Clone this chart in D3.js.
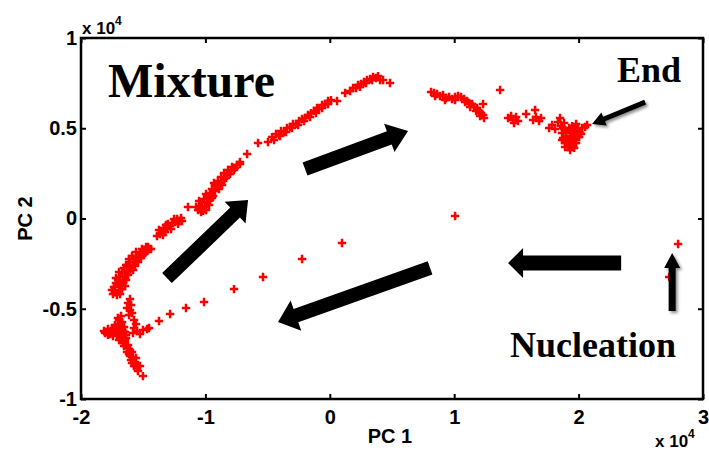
<!DOCTYPE html>
<html>
<head>
<meta charset="utf-8">
<script src="https://cdn.jsdelivr.net/npm/d3@7"></script>
<style>
  html, body { margin: 0; padding: 0; background: #fff; }
  svg { display: block; }
</style>
</head>
<body>
<svg id="chart" width="709" height="452"></svg>
<script>
// PCA scores [PC 1, PC 2] of the crystallisation trajectory, grouped by stage.
const nucleationPath = [[28000,-1410],[27280,-3240],[10070,140],[980,-1360],[-2230,-2240],[-5370,-3240],[-7700,-3910],[-10110,-4630],[-11560,-4960],[-12840,-5290],[-13730,-5680],[-14530,-6070],[-15020,-6180],[-15500,-6230],[-15820,-6340],[-15260,-6400],[-14690,-6120]];
const turnColumn = [[-16060,-4460],[-16220,-4680],[-15980,-4790],[-16300,-4960],[-16060,-5070],[-15900,-5240],[-16140,-5350],[-15740,-5620],[-15580,-5840],[-15740,-6070]];
const lowerCluster = [[-18070,-6340],[-17830,-6230],[-17670,-6400],[-17510,-6120],[-17350,-6290],[-17190,-6010],[-17030,-5840],[-16940,-5620],[-16780,-5400],[-16700,-5730],[-16860,-6070],[-17110,-6450],[-17430,-6510],[-16540,-6010],[-16460,-6290],[-16700,-6560],[-16940,-6730],[-16620,-6900],[-16380,-6620],[-16220,-7010],[-16300,-7170],[-16060,-7290],[-16140,-7510],[-15900,-7400],[-15820,-7670],[-15980,-7840],[-15660,-7950],[-15580,-7730],[-15740,-8170],[-15500,-8280],[-15420,-8450],[-15260,-8170],[-15020,-8730],[-17590,-6230],[-17030,-6180],[-16780,-6340],[-16460,-6730],
  [-17830,-6450],[-17510,-6340],[-17270,-5900],[-17030,-5510],[-16780,-5960],[-17110,-6230],[-16620,-6230],[-16380,-6450],[-16780,-6730],[-16540,-7060],[-16300,-7400],[-16060,-7620],[-15900,-8010],[-15580,-8060],[-17830,-6120],[-18150,-6230]];
const mixtureRise = [[-17270,-4070],[-17110,-4240],[-16940,-3960],[-17350,-3800],[-17190,-3570],[-17030,-3410],[-16780,-3680],[-16620,-3520],[-16860,-3240],[-16700,-3020],[-16460,-3190],[-16300,-2910],[-16540,-2740],[-16220,-2630],[-15980,-2740],[-16060,-2410],[-15820,-2580],[-15740,-2240],[-15580,-2410],[-15500,-2080],[-15340,-2190],[-15260,-1910],[-15020,-2020],[-14930,-1750],[-14690,-1800],[-14530,-1690],[-14610,-1580],[-13890,-970],
  [-17510,-3960],[-17430,-4180],[-16860,-4180],[-16700,-3910],[-16460,-3740],[-16380,-3410],[-17190,-3300],[-16220,-3130],[-16940,-2960],[-16060,-2910],[-16380,-2580],[-15820,-2850],[-15660,-2630],[-16140,-2240],[-15420,-2410],[-15900,-2080],[-15180,-2190],[-15580,-1860],[-14850,-1910],[-15100,-1690],[-14370,-1690],[-14770,-1580]];
const mixtureMid = [[-13650,-860],[-13490,-690],[-13250,-750],[-13330,-530],[-13090,-580],[-12840,-420],[-13010,-300],[-12680,-250],[-12440,-190],[-12280,-30],[-12120,-140],[-11960,30],[-11400,640],
  [-13730,-640],[-13410,-910],[-13170,-360],[-12760,-580],[-12520,-30],[-12200,-300],[-11880,-140]];
const mixtureUpper = [[-10590,470],[-10430,690],[-10190,420],[-10270,860],[-10030,640],[-9870,910],[-10110,1080],[-9790,1190],[-9630,1020],[-9630,1410],[-9390,1250],[-9470,1630],[-9230,1520],[-9230,1860],[-8990,1750],[-8990,2080],[-8740,1970],[-8740,2300],[-8500,2190],[-8500,2520],[-8260,2410],[-8180,2690],[-7940,2630],[-7860,2850],[-7620,2800],[-7460,2960],[-7220,3020],[-7220,3130],[-6650,3570],[-5770,4180],[-4970,4240],
  [-10750,640],[-10510,970],[-10350,360],[-9950,470],[-9710,750],[-9950,1360],[-9470,1140],[-9310,1970],[-8910,1630],[-8660,1860],[-8340,2240],[-8020,2470],[-7700,2690]];
const mixtureArc = [[-4640,4510],[-4320,4680],[-4080,4630],[-3920,4850],[-3680,4790],[-3440,5010],[-3200,5070],[-2960,5240],[-2710,5240],[-2470,5400],[-2230,5510],[-1990,5570],[-1750,5730],[-1510,5840],[-1270,5960],[-1030,6120],[-870,6070],[-620,6290],[-380,6340],[-140,6510],[100,6560],[580,6510],[1230,6950],[1630,7060],[1870,7230],[2110,7230],[2270,7400],[2510,7450],[2750,7560],[2990,7670],[3240,7730],[3480,7840],[3720,7780],[3880,7890],[4040,7670],[4280,7670],[4840,7510],
  [-4480,4350],[-4000,4570],[-3520,4790],[-3040,5010],[-2550,5180],[-2070,5400],[-1590,5620],[-1110,5840],[-620,6120],[-140,6340],[2430,7290],[2910,7510],[3400,7670]];
const descentBand = [[8140,7010],[8380,6950],[8620,6900],[8860,6790],[9100,6840],[9350,6680],[9590,6730],[9830,6620],[10070,6730],[10310,6790],[10550,6730],[10790,6620],[11030,6510],[11200,6400],[11440,6340],[11600,6180],[11840,6120],[12000,5960],[12160,5840],[12320,5730],[12320,6340],[13690,7120],
  [8460,6790],[9260,6560],[10070,6560],[10870,6450],[11280,6180],[11760,5960],[12080,5680],[12400,5570]];
const lateClusters = [[14330,5570],[14570,5680],[14730,5460],[14970,5620],[15130,5400],[14810,5290],[15780,5790],[16500,6010],[16340,5460],[16580,5620],[16820,5400],[16980,5570]];
const endCluster = [[17630,5010],[17870,5180],[18110,4960],[18350,5350],[18510,5570],[18590,5120],[18830,5290],[18910,4900],[18670,4740],[18990,4570],[18750,4460],[19150,4350],[18910,4180],[19320,4070],[19070,4290],[19480,4460],[19400,4740],[19640,4850],[19800,4630],[19720,4350],[19560,4180],[19960,4960],[20120,4740],[20280,5010],[20520,5070],[20680,5180],[19240,5010],[19150,3960],
  [18670,4350],[18990,4790],[19320,4570],[19640,4460],[19150,4130],[19480,3960],[19800,4180],[20040,4510],[19880,4850],[18750,5010],[19320,4900],[20200,4680],[18910,3960],
  [19480,5120],[19800,5240],[19640,3910],[19320,3790]];

const xTicks = [-20000, -10000, 0, 10000, 20000, 30000];
const yTicks = [-10000, -5000, 0, 5000, 10000];

// Stage labels and direction arrows, placed in score coordinates
const stageLabels = [
  { text: "Mixture", at: [-17830, 6730], size: 48 },
  { text: "End", at: [23090, 7560], size: 36 },
  { text: "Nucleation", at: [14490, -7670], size: 36 }
];
const arrows = [
  { from: [-13090, -3300], to: [-6570, 1020], shaft: 14, headLen: 18, headW: 30, shadow: false },
  { from: [-1990, 2740], to: [6290, 4850], shaft: 14, headLen: 20, headW: 30, shadow: false },
  { from: [8060, -2740], to: [-4160, -5730], shaft: 14, headLen: 19, headW: 32, shadow: false },
  { from: [23420, -2470], to: [14330, -2470], shaft: 15, headLen: 15, headW: 30, shadow: false },
  { from: [27520, -5120], to: [27520, -1910], shaft: 7, headLen: 15, headW: 16, shadow: true },
  { from: [25350, 6450], to: [21080, 5240], shaft: 5, headLen: 13, headW: 14, shadow: true }
];

const W = 709, H = 452;
const margin = { top: 38, right: 6, bottom: 53, left: 81 };
const svg = d3.select("#chart");

const x = d3.scaleLinear().domain([-20000, 30000]).range([margin.left, W - margin.right]);
const y = d3.scaleLinear().domain([-10000, 10000]).range([H - margin.bottom, margin.top]);

const sansBold = "'Liberation Sans', Arial, Helvetica, sans-serif";
const serifBold = "'Liberation Serif', 'Times New Roman', Times, serif";
const fmt = v => String(v / 1e4);

const defs = svg.append("defs");
const shadow = defs.append("filter").attr("id", "soft-shadow")
  .attr("x", "-50%").attr("y", "-50%").attr("width", "200%").attr("height", "200%");
shadow.append("feDropShadow").attr("dx", 2).attr("dy", 2)
  .attr("stdDeviation", 1.6).attr("flood-color", "#000").attr("flood-opacity", 0.45);

// Scatter markers: red plus signs
const allScores = [].concat(nucleationPath, turnColumn, lowerCluster, mixtureRise,
  mixtureMid, mixtureUpper, mixtureArc, descentBand, lateClusters, endCluster);
const plus = "M-4.2,0H4.2M0,-4.2V4.2";
svg.append("g").selectAll("path").data(allScores).join("path")
  .attr("transform", d => `translate(${x(d[0])},${y(d[1])})`)
  .attr("d", plus)
  .attr("fill", "none")
  .attr("stroke", "#ff0000")
  .attr("stroke-width", 2.5);

// Axes with inward ticks on all four sides
function styleAxis(g) {
  g.select(".domain").remove();
  g.selectAll(".tick line").attr("stroke", "#000").attr("stroke-width", 2);
  g.selectAll(".tick text")
    .attr("fill", "#000")
    .attr("font-family", sansBold)
    .attr("font-weight", "bold")
    .attr("font-size", 20);
}
svg.append("g").attr("transform", `translate(0,${y(-10000)})`)
  .call(d3.axisBottom(x).tickValues(xTicks).tickFormat(fmt).tickSizeInner(-5).tickSizeOuter(0).tickPadding(11))
  .call(styleAxis);
svg.append("g").attr("transform", `translate(0,${y(10000)})`)
  .call(d3.axisTop(x).tickValues(xTicks).tickFormat("").tickSizeInner(-5).tickSizeOuter(0))
  .call(styleAxis);
svg.append("g").attr("transform", `translate(${x(-20000)},0)`)
  .call(d3.axisLeft(y).tickValues(yTicks).tickFormat(fmt).tickSizeInner(-5).tickSizeOuter(0).tickPadding(4))
  .call(styleAxis);
svg.append("g").attr("transform", `translate(${x(30000)},0)`)
  .call(d3.axisRight(y).tickValues(yTicks).tickFormat("").tickSizeInner(-5).tickSizeOuter(0))
  .call(styleAxis);

svg.append("rect")
  .attr("x", x(-20000)).attr("y", y(10000))
  .attr("width", x(30000) - x(-20000)).attr("height", y(-10000) - y(10000))
  .attr("fill", "none").attr("stroke", "#000").attr("stroke-width", 2.5);

// Axis titles and exponent labels
svg.append("text").text("PC 1")
  .attr("x", 390).attr("y", 443).attr("text-anchor", "middle")
  .attr("font-family", sansBold).attr("font-weight", "bold").attr("font-size", 20);
svg.append("text").text("PC 2")
  .attr("transform", `translate(32,${y(0)}) rotate(-90)`).attr("text-anchor", "middle")
  .attr("font-family", sansBold).attr("font-weight", "bold").attr("font-size", 20);

function exponentLabel(px, py) {
  const t = svg.append("text").attr("x", px).attr("y", py)
    .attr("font-family", sansBold).attr("font-weight", "bold").attr("font-size", 17);
  t.append("tspan").text("x 10");
  t.append("tspan").text("4").attr("dy", -9).attr("font-size", 12);
}
exponentLabel(82, 34);
exponentLabel(655, 447);

// Direction arrows
function arrowPoints(a) {
  const x1 = x(a.from[0]), y1 = y(a.from[1]);
  const x2 = x(a.to[0]), y2 = y(a.to[1]);
  const len = Math.hypot(x2 - x1, y2 - y1);
  const ux = (x2 - x1) / len, uy = (y2 - y1) / len;
  const nx = -uy, ny = ux;
  const bx = x2 - ux * a.headLen, by = y2 - uy * a.headLen;
  const s = a.shaft / 2, h = a.headW / 2;
  return [
    [x1 + nx * s, y1 + ny * s], [bx + nx * s, by + ny * s], [bx + nx * h, by + ny * h],
    [x2, y2],
    [bx - nx * h, by - ny * h], [bx - nx * s, by - ny * s], [x1 - nx * s, y1 - ny * s]
  ];
}
svg.append("g").selectAll("polygon").data(arrows).join("polygon")
  .attr("points", d => arrowPoints(d).map(p => p.join(",")).join(" "))
  .attr("fill", "#000")
  .attr("filter", d => d.shadow ? "url(#soft-shadow)" : null);

// Stage labels
svg.append("g").selectAll("text").data(stageLabels).join("text")
  .attr("x", d => x(d.at[0])).attr("y", d => y(d.at[1]))
  .attr("font-family", serifBold).attr("font-weight", "bold")
  .attr("font-size", d => d.size)
  .attr("fill", "#000")
  .text(d => d.text);
</script>
</body>
</html>
